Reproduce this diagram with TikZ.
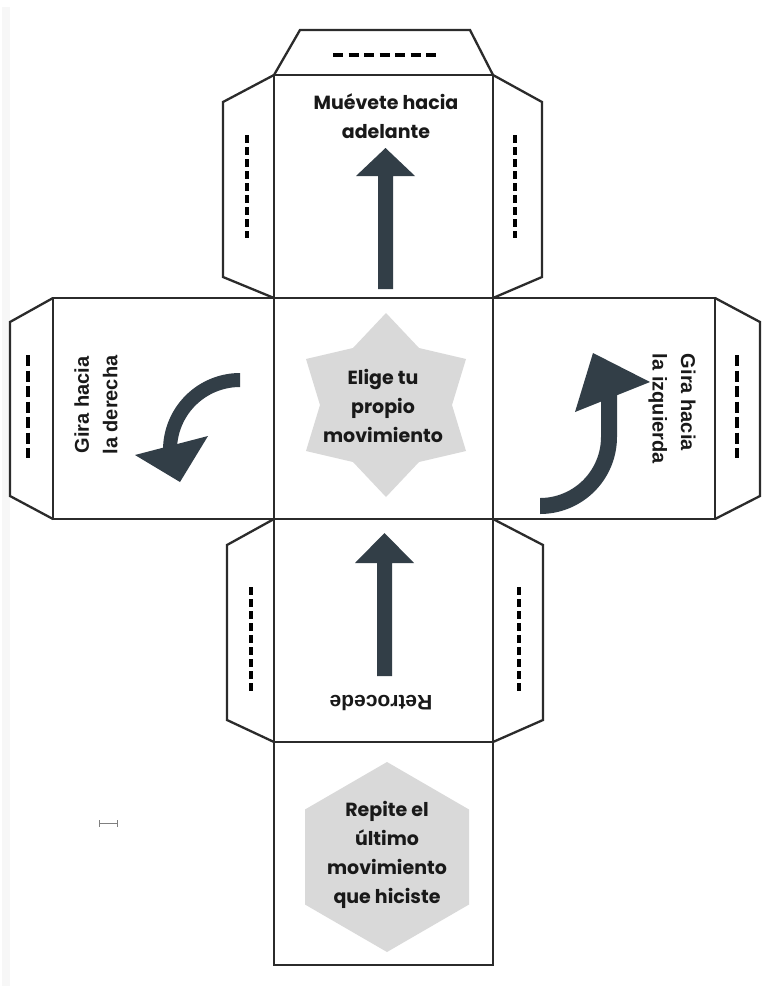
\documentclass[tikz,border=0pt]{standalone}
\usepackage{fontspec}
\newfontfamily\pop{Poppins}
\newfontfamily\lib{Liberation Sans}
\definecolor{arrowc}{HTML}{323E47}
\definecolor{shapeg}{HTML}{D9D9D9}
\definecolor{edgec}{HTML}{2B2B2B}
\begin{document}
\begin{tikzpicture}[x=1pt,y=-1pt,
  edge/.style={draw=edgec,line width=2.3pt,line join=miter},
  cutdash/.style={draw=black,line width=4pt},
  mainlbl/.style={font=\pop\bfseries\fontsize{19}{29}\selectfont,align=center,inner sep=0pt,text=black!90},
  sidelbl/.style={font=\lib\bfseries\fontsize{20}{28.5}\selectfont,align=center,inner sep=0pt,text=black!90},
  arrowfill/.style={fill=arrowc}]
\useasboundingbox (0,0) rectangle (763,986);
\fill[white] (0,0) rectangle (763,986);
\fill[black!3] (2,7) rectangle (10,986);
% faces
\draw[edge] (274,75) rectangle (493,298);
\draw[edge] (274,298) rectangle (493,519);
\draw[edge] (53,298) rectangle (274,519);
\draw[edge] (493,298) rectangle (715,519);
\draw[edge] (274,519) rectangle (493,742);
\draw[edge] (274,742) rectangle (493,965);
% flaps
\draw[edge] (274,75) -- (300,30) -- (470,30) -- (493,75);
\draw[edge] (274,75) -- (223,102) -- (223,277) -- (274,298);
\draw[edge] (493,75) -- (542,102) -- (542,277) -- (493,298);
\draw[edge] (53,298) -- (10,322) -- (10,496) -- (53,519);
\draw[edge] (715,298) -- (760,322) -- (760,496) -- (715,519);
\draw[edge] (274,519) -- (227,545) -- (227,720) -- (274,742);
\draw[edge] (493,519) -- (543,545) -- (543,720) -- (493,742);
% dashed cut marks
\draw[cutdash,dash pattern=on 10pt off 5.5pt] (333,55) -- (438,55);
\draw[cutdash,dash pattern=on 8pt off 4pt] (247,135) -- (247,238);
\draw[cutdash,dash pattern=on 8pt off 4pt] (515,135) -- (515,238);
\draw[cutdash,dash pattern=on 11pt off 4.5pt] (28,355) -- (28,458);
\draw[cutdash,dash pattern=on 11pt off 4.5pt] (737,355) -- (737,458);
\draw[cutdash,dash pattern=on 8pt off 4pt] (251,587) -- (251,691);
\draw[cutdash,dash pattern=on 8pt off 4pt] (519,587) -- (519,691);
% straight arrows
\fill[arrowfill] (378,289) -- (378,176) -- (356,176) -- (385.5,148) -- (415,176) -- (393,176) -- (393,289) -- cycle;
\fill[arrowfill] (377,676) -- (377,563) -- (355,563) -- (384.5,533) -- (414,563) -- (392,563) -- (392,676) -- cycle;
% curved arrow left face
\fill[arrowfill] plot[domain=270:174,samples=40] ({240+77*cos(\x)},{450+77*sin(\x)})
  -- plot[domain=174:270,samples=40] ({240+63*cos(\x)},{450+63*sin(\x)}) -- cycle;
\fill[arrowfill] (135,455) -- (208,436) -- (180,482) -- cycle;
% curved arrow right face
\fill[arrowfill] plot[domain=90:0,samples=40] ({540+77*cos(\x)},{437+77*sin(\x)}) -- (617,395) -- (601,395)
  -- plot[domain=0:90,samples=40] ({540+61*cos(\x)},{437+61*sin(\x)}) -- cycle;
\fill[arrowfill] (593,353) -- (650,382) -- (575,412) -- cycle;
% star
\fill[shapeg] (386,313) -- (419,348) -- (466,359) -- (452,405) -- (466,451) -- (419,462) -- (386,497)
  -- (353,462) -- (306,451) -- (320,405) -- (306,359) -- (353,348) -- cycle;
% hexagon
\fill[shapeg] (387,762) -- (469,809.5) -- (469,904.5) -- (387,952) -- (305,904.5) -- (305,809.5) -- cycle;
% I-beam mark
\draw[gray,line width=1pt] (99,823.5) -- (117,823.5);
\draw[gray,line width=1pt] (99,820) -- (99,827);
\draw[gray,line width=1pt] (117,820) -- (117,827);
% labels
\node[mainlbl] (fwd) at (386,116) {Muévete hacia\\adelante};
\node[mainlbl] (choose) at (383,406) {Elige tu\\propio\\movimiento};
\node[mainlbl] (repeat) at (387,855) {Repite el\\último\\movimiento\\que hiciste};
\node[sidelbl,rotate=90] (right) at (96,405) {Gira hacia\\la derecha};
\node[sidelbl,align=left,rotate=-90] (left) at (672,409) {Gira hacia\\la izquierda};
\node[sidelbl,font=\lib\bfseries\fontsize{21}{28}\selectfont,rotate=180] (back) at (381,703) {Retrocede};
\end{tikzpicture}
\end{document}
